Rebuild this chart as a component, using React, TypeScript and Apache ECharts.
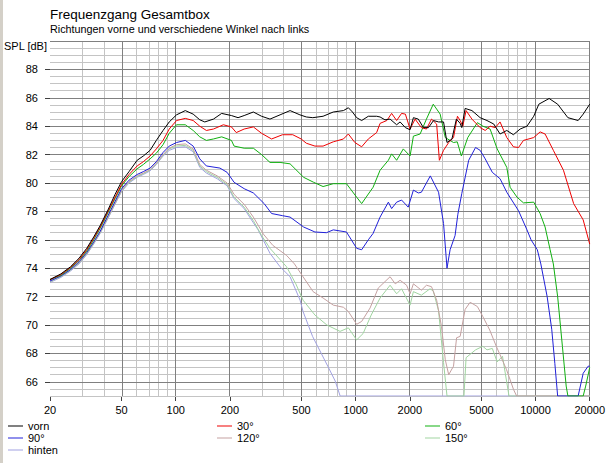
import React, { useEffect, useRef } from "react";
import * as echarts from "echarts";

const TITLE = "Frequenzgang Gesamtbox";
const SUBTITLE = "Richtungen vorne und verschiedene Winkel nach links";
const Y_NAME = "SPL [dB]";

const X_LABELS = [20, 50, 100, 200, 500, 1000, 2000, 5000, 10000, 20000];
const X_GRID = [20, 30, 40, 50, 60, 70, 80, 90, 100, 200, 300, 400, 500, 600, 700, 800, 900, 1000, 2000, 3000, 4000, 5000, 6000, 7000, 8000, 9000, 10000, 20000];
const Y_LABELS = [66, 68, 70, 72, 74, 76, 78, 80, 82, 84, 86, 88];
const Y_MIN = 65;
const Y_MAX = 90;

const SERIES_NAMES = ["vorn", "30°", "60°", "90°", "120°", "150°", "hinten"];
const SERIES_COLORS = ["#000000", "#ee0000", "#10b010", "#2020d8", "#c4a0a0", "#a0d4a0", "#a0a0e0"];

const vorn = [[20,73.2],[23,73.6],[26,74.1],[29,74.7],[32,75.4],[35,76.2],[38,77.0],[42,78.1],[46,79.2],[50,80.1],[55,80.8],[61,81.6],[66,81.9],[72,82.3],[78,83.0],[85,83.7],[92,84.3],[101,84.8],[113,85.1],[125,84.85],[136,84.45],[145,84.3],[162,84.5],[180,84.9],[204,84.75],[222,84.6],[240,84.75],[270,85.0],[300,84.7],[334,84.5],[380,84.8],[432,85.1],[490,84.8],[532,84.65],[578,84.6],[659,84.7],[751,85.0],[855,85.1],[911,85.3],[960,85.0],[1013,84.6],[1080,84.4],[1176,84.7],[1308,84.7],[1367,84.65],[1455,84.45],[1554,84.5],[1690,84.1],[1766,84.3],[1890,83.9],[2007,83.75],[2094,84.6],[2230,84.5],[2380,83.9],[2540,83.9],[2710,84.4],[2890,84.3],[3080,84.3],[3220,82.85],[3430,83.1],[3630,84.5],[3810,84.2],[3890,83.9],[4060,85.25],[4430,85.1],[4920,84.6],[5370,84.4],[5860,84.15],[6350,83.45],[6920,83.7],[7530,83.4],[8210,83.8],[8960,84.0],[9770,84.7],[10430,85.55],[11900,85.95],[13270,85.55],[15130,84.6],[17250,84.4],[18400,84.85],[20000,85.55]];

const deg30 = [[20,73.2],[23,73.55],[26,74.05],[29,74.6],[32,75.3],[35,76.1],[38,76.9],[42,78.0],[46,79.0],[50,79.9],[55,80.6],[61,81.2],[66,81.5],[72,81.9],[78,82.4],[85,83.0],[92,83.8],[101,84.4],[113,84.55],[125,84.4],[136,84.0],[148,83.7],[162,83.8],[184,84.1],[204,83.95],[217,83.55],[240,83.8],[270,83.95],[300,83.5],[341,83.1],[392,83.4],[447,83.4],[498,83.1],[532,82.8],[594,82.6],[659,82.6],[751,82.9],[855,83.1],[911,83.45],[990,82.85],[1080,82.55],[1176,83.1],[1308,83.55],[1367,84.2],[1490,84.4],[1585,84.9],[1690,84.4],[1800,84.9],[1890,84.85],[2007,83.8],[2140,84.5],[2320,83.9],[2475,83.8],[2640,84.5],[2820,84.15],[2920,81.6],[3080,82.3],[3290,82.85],[3500,83.2],[3680,84.7],[3810,84.4],[3940,84.0],[4110,85.1],[4430,84.5],[4920,83.9],[5250,83.7],[5590,84.0],[5970,83.9],[6350,84.3],[6920,83.2],[7530,82.55],[8040,82.5],[8570,83.0],[9770,83.2],[10600,83.6],[11300,83.45],[12560,82.3],[14290,80.9],[16280,78.55],[18400,77.4],[20000,75.7]];

const deg60 = [[20,73.2],[23,73.5],[26,74.0],[29,74.55],[32,75.2],[35,76.0],[38,76.8],[42,77.9],[46,78.9],[50,79.8],[55,80.45],[61,81.0],[66,81.3],[72,81.7],[78,82.1],[85,82.7],[92,83.5],[101,84.1],[113,84.1],[125,83.7],[136,83.25],[148,83.0],[162,83.1],[180,83.25],[204,83.0],[211,82.6],[240,82.45],[270,82.45],[300,82.0],[334,81.45],[380,81.45],[432,81.35],[514,80.4],[584,80.05],[659,79.75],[751,79.95],[889,79.95],[1013,79.0],[1080,78.55],[1250,79.7],[1367,80.9],[1520,81.6],[1585,82.05],[1690,81.6],[1840,82.4],[2007,81.9],[2094,83.3],[2282,83.45],[2475,84.5],[2700,85.55],[2950,84.85],[3150,83.2],[3500,82.85],[3670,82.9],[3870,81.9],[4200,83.2],[4750,84.25],[5100,84.0],[5590,83.8],[6120,82.4],[6920,81.1],[7220,79.7],[7890,79.0],[8570,78.6],[9770,78.65],[10600,77.85],[11300,76.9],[12050,75.3],[12560,74.3],[13270,72.0],[14100,68.5],[14800,65.7],[15130,65],[18400,65],[19000,65.7],[20000,67.0]];

const deg90 = [[20,73.1],[23,73.45],[26,73.9],[29,74.45],[32,75.1],[35,75.85],[38,76.6],[42,77.7],[46,78.7],[50,79.6],[55,80.2],[61,80.6],[66,80.8],[72,81.05],[78,81.5],[85,82.15],[92,82.6],[101,82.85],[113,83.0],[125,82.6],[136,81.7],[148,81.2],[176,81.05],[193,80.75],[211,80.05],[240,79.6],[270,79.3],[310,78.55],[341,77.85],[392,77.7],[432,77.6],[514,76.9],[594,76.55],[688,76.5],[751,76.7],[889,76.55],[1013,75.4],[1080,75.3],[1176,76.0],[1250,76.45],[1367,77.6],[1520,78.65],[1585,78.2],[1690,78.65],[1800,78.8],[1960,78.3],[2094,79.5],[2230,79.3],[2320,79.35],[2600,80.5],[2890,79.35],[3080,77.15],[3220,74.0],[3350,75.3],[3570,76.3],[3700,77.8],[3890,79.25],[4250,81.6],[4640,82.5],[4920,82.3],[5250,81.7],[5750,80.75],[6350,80.3],[6920,79.35],[8040,78.05],[8960,76.7],[9440,76.0],[10230,75.3],[10700,74.3],[11600,72.0],[12300,69.7],[12800,67.3],[13270,65],[17250,65],[18400,66.6],[19600,67.1],[20000,67.1]];

const deg120 = [[20,73.1],[23,73.45],[26,73.9],[29,74.4],[32,75.05],[35,75.8],[38,76.55],[42,77.6],[46,78.6],[50,79.5],[55,80.1],[61,80.5],[66,80.7],[72,80.95],[78,81.4],[85,82.0],[92,82.45],[101,82.7],[113,82.75],[125,82.4],[136,81.3],[148,80.9],[170,80.5],[193,80.0],[211,79.2],[240,78.5],[270,77.6],[307,76.4],[347,75.6],[413,74.9],[457,74.3],[510,73.4],[580,72.35],[659,71.9],[751,71.4],[855,71.25],[911,70.95],[1013,70.05],[1080,70.25],[1203,71.2],[1335,72.6],[1554,73.4],[1660,72.9],[1766,73.15],[1920,72.8],[2007,72.2],[2094,72.9],[2320,72.45],[2475,72.8],[2640,72.7],[2820,71.75],[3000,69.9],[3150,67.55],[3290,66.5],[3500,67.1],[3640,69.1],[3810,69.2],[4060,71.1],[4330,71.6],[4750,71.3],[5090,70.6],[5560,69.65],[6050,68.5],[6350,67.9],[6900,66.85],[7550,65.45],[7850,65],[20000,65]];

const deg150 = [[20,73.05],[23,73.4],[26,73.85],[29,74.35],[32,75.0],[35,75.75],[38,76.5],[42,77.55],[46,78.55],[50,79.45],[55,80.05],[61,80.45],[66,80.65],[72,80.9],[78,81.35],[85,81.95],[92,82.4],[101,82.6],[113,82.65],[125,82.3],[136,81.2],[148,80.8],[170,80.4],[193,79.9],[211,79.0],[240,78.3],[270,77.35],[300,76.3],[334,75.4],[413,74.1],[465,72.9],[510,71.75],[594,70.7],[692,70.0],[819,69.55],[911,69.8],[1013,68.95],[1100,69.4],[1220,70.7],[1367,71.9],[1554,72.8],[1690,72.2],[1800,72.55],[2007,71.4],[2094,72.35],[2320,72.1],[2590,72.55],[2700,72.4],[2890,71.0],[3080,67.35],[3220,65],[4000,65],[4110,67.7],[4640,68.25],[5090,68.5],[5370,68.25],[5750,68.35],[6120,67.4],[6550,67.8],[7120,65],[20000,65]];

const hinten = [[20,73.0],[23,73.35],[26,73.8],[29,74.3],[32,74.95],[35,75.7],[38,76.45],[42,77.5],[46,78.5],[50,79.4],[55,80.0],[61,80.4],[66,80.6],[72,80.85],[78,81.3],[85,81.9],[92,82.3],[101,82.5],[113,82.55],[125,82.2],[136,81.1],[148,80.7],[170,80.3],[193,79.8],[211,78.9],[240,78.2],[270,77.2],[287,76.7],[334,75.05],[380,74.1],[432,73.4],[491,71.75],[510,70.95],[576,69.2],[700,67.1],[770,66.05],[820,65],[20000,65]];

const SERIES_DATA = [vorn, deg30, deg60, deg90, deg120, deg150, hinten];

const FONT = "'Liberation Sans', Arial, sans-serif";
const DARK = "#808080";
const LIGHT = "#c4c4c4";

export default function App() {
  const ref = useRef<HTMLDivElement>(null);
  useEffect(() => {
    if (!ref.current) return;
    const chart = echarts.init(ref.current, null, { renderer: "svg" });
    const lg = Math.log10;

    const vLines = X_GRID.map((f) => ({
      xAxis: lg(f),
      lineStyle: { color: X_LABELS.includes(f) ? DARK : LIGHT, width: 1, type: "solid" },
    }));
    const hLines: any[] = [];
    for (let v = Y_MIN; v <= Y_MAX + 1e-9; v += 0.5) {
      const dark = Number.isInteger(v) && v % 2 === 0;
      hLines.push({ yAxis: v, lineStyle: { color: dark ? DARK : LIGHT, width: 1, type: "solid" } });
    }
    const gridLines = [...hLines, ...vLines].sort((a, b) => {
      const da = a.lineStyle.color === DARK ? 1 : 0;
      const db = b.lineStyle.color === DARK ? 1 : 0;
      return da - db;
    });

    const series: any[] = [
      {
        name: "__grid",
        type: "line",
        data: [[lg(20), Y_MIN]],
        showSymbol: false,
        lineStyle: { opacity: 0 },
        silent: true,
        z: 1,
        markLine: {
          silent: true,
          symbol: ["none", "none"],
          label: { show: false },
          z: 1,
          animation: false,
          data: gridLines,
        },
      },
    ];
    SERIES_NAMES.forEach((name, i) => {
      series.push({
        name,
        type: "line",
        data: SERIES_DATA[i].map(([f, v]) => [lg(f), v]),
        showSymbol: false,
        symbol: "none",
        lineStyle: { color: SERIES_COLORS[i], width: 1 },
        itemStyle: { color: SERIES_COLORS[i] },
        z: 10 - i,
        emphasis: { disabled: true },
      });
    });

    const legendBase = {
      orient: "vertical",
      icon: "rect",
      itemWidth: 15,
      itemHeight: 1,
      itemGap: 0,
      padding: 0,
      top: 420,
      textStyle: { fontSize: 11, fontFamily: FONT, color: "#000", lineHeight: 12 },
    };

    chart.setOption({
      animation: false,
      backgroundColor: "#ffffff",
      textStyle: { fontFamily: FONT },
      title: [
        { text: TITLE, left: 50, top: 7, padding: 0, textStyle: { fontSize: 13.5, fontWeight: "normal", color: "#000", fontFamily: FONT } },
        { text: SUBTITLE, left: 50, top: 23, padding: 0, textStyle: { fontSize: 10.8, fontWeight: "normal", color: "#000", fontFamily: FONT } },
        { text: Y_NAME, left: 4, top: 40, padding: 0, textStyle: { fontSize: 11, fontWeight: "normal", color: "#000", fontFamily: FONT } },
      ],
      legend: [
        { ...legendBase, left: 8, data: ["vorn", "90°", "hinten"] },
        { ...legendBase, left: 217, data: ["30°", "120°"] },
        { ...legendBase, left: 425, data: ["60°", "150°"] },
      ],
      grid: { left: 50, right: 18, top: 41, bottom: 67, containLabel: false },
      xAxis: {
        type: "value",
        min: lg(20),
        max: lg(20000),
        axisLine: { show: false },
        splitLine: { show: false },
        axisTick: { show: true, length: 5, customValues: X_LABELS.map(lg), lineStyle: { color: "#404040" } },
        axisLabel: {
          customValues: X_LABELS.map(lg),
          formatter: (v: number) => String(Math.round(Math.pow(10, v))),
          fontSize: 11,
          color: "#000",
          margin: 8,
          fontFamily: FONT,
        },
      },
      yAxis: {
        type: "value",
        min: Y_MIN,
        max: Y_MAX,
        interval: 1,
        axisLine: { show: false },
        splitLine: { show: false },
        axisTick: { show: true, length: 5, customValues: Y_LABELS, lineStyle: { color: "#404040" } },
        axisLabel: { customValues: Y_LABELS, fontSize: 11, color: "#000", margin: 12, fontFamily: FONT },
      },
      graphic: [
        { type: "rect", left: 0, top: 0, shape: { width: 3, height: 463 }, style: { fill: "#d4d0c8" }, silent: true },
      ],
      series,
    });
    return () => chart.dispose();
  }, []);
  return (
    <div style={{ position: "fixed", left: 0, top: 0, width: 608, height: 463, background: "#fff" }}>
      <div ref={ref} style={{ width: 608, height: 463 }} />
    </div>
  );
}
